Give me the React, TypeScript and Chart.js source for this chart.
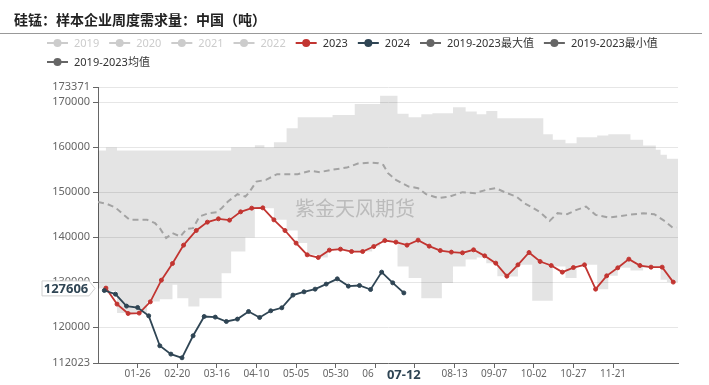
import React, { useEffect, useRef } from 'react';
import { Chart, registerables } from 'chart.js';

Chart.register(...registerables);

const FONT = '"Noto Sans", "Noto Sans CJK SC", sans-serif';
const CJK_FONT = '"Noto Sans CJK SC", "Noto Sans", sans-serif';

const title = '硅锰：样本企业周度需求量：中国（吨）';
const watermark = '紫金天风期货';

const legendRow1 = ['2019', '2020', '2021', '2022', '2023', '2024', '2019-2023最大值', '2019-2023最小值'];
const legendRow2 = ['2019-2023均值'];
const legendDisabled = ['2019', '2020', '2021', '2022'];
const legendColors: Record<string, string> = {
  '2023': '#c23531',
  '2024': '#2f4554',
  '2019-2023最大值': '#666666',
  '2019-2023最小值': '#666666',
  '2019-2023均值': '#666666',
};

const yTickValues = [112023, 120000, 130000, 140000, 150000, 160000, 170000, 173371];
const xTickDays = [25, 50, 75, 100, 125, 150, 175, 200, 225, 250, 275, 300, 325];

// weekly series (first date of each series, Friday data)
const start2023 = [2023, 0, 6];
const start2024 = [2024, 0, 5];

const values2023 = [
  128670, 125110, 123030, 123110, 125620, 130440, 134130, 138220, 141470, 143330,
  144070, 143780, 145620, 146440, 146510, 143840, 141470, 138670, 136070, 135470,
  137110, 137330, 136800, 136800, 137910, 139240, 138890, 138220, 139330, 138000,
  137020, 136670, 136510, 137180, 135840, 134220, 131330, 133840, 136580, 134580,
  133690, 132220, 133240, 133840, 128440, 131400, 133180, 135110, 133690, 133330,
  133330, 130000,
];

const values2024 = [
  128140, 127330, 124670, 124360, 122510, 115850, 114000, 113180, 118070, 122360,
  122220, 121250, 121780, 123470, 122140, 123620, 124290, 127110, 127840, 128440,
  129560, 130730, 129110, 129250, 128360, 132220, 129840, 127606,
];

const avgDays = [
  0, 6, 11, 15, 20, 31, 36, 39, 43, 47, 52, 56, 60, 64, 70, 75, 78, 82, 88, 93,
  95, 100, 106, 113, 126, 134, 140, 147, 157, 164, 172, 177, 180, 183, 188, 196, 202, 207, 215, 222,
  230, 238, 245, 251, 258, 264, 269, 273, 279, 285, 290, 296, 302, 308, 314, 322, 328, 335, 344, 351,
  358, 363, 365,
];
const avgValues = [
  147800, 147330, 146580, 145330, 143840, 143840, 143100, 142000, 139780, 140890,
  140130, 141840, 142000, 144580, 145330, 145550, 146440, 147910, 149550, 149020,
  149780, 152350, 152730, 154000, 154000, 154730, 154440, 154950, 155460, 156350,
  156570, 156440, 156060, 154220, 152730, 151240, 150890, 149550, 148670, 149020,
  150000, 149780, 150510, 150890, 149780, 149020, 147550, 146800, 145550, 143620,
  145330, 145100, 146060, 146800, 144950, 144350, 144580, 144950, 145330, 145100,
  143470, 142000, 142130,
];

const bandDays = [
  0, 5, 12, 31, 39, 47, 50, 57, 64, 78, 84, 93, 99, 105, 111, 119, 126, 132, 139, 145,
  148, 159, 162, 173, 178, 189, 196, 204, 211, 217, 224, 232, 239, 245, 252, 258, 265, 274, 281, 287,
  295, 302, 315, 322, 328, 336, 344, 352, 355, 359, 366,
];
const bandMax = [
  159240, 159910, 159240, 159240, 159240, 159240, 159240, 159240, 159240, 159240,
  159910, 159910, 160440, 159910, 161110, 164220, 166660, 166660, 166660, 166660,
  167170, 167170, 169620, 169620, 171400, 167400, 166660, 167330, 167550, 167550,
  168880, 167910, 167330, 168060, 166440, 166440, 166440, 166440, 162890, 161620,
  160890, 162220, 162580, 162890, 162890, 161620, 160350, 159400, 158290, 157400,
  157400,
];
const bandMin = [
  128580, 128000, 123110, 125690, 126220, 129400, 126440, 124580, 126440, 132000,
  136800, 139910, 146440, 146440, 143840, 141470, 138670, 136070, 135470, 137110,
  137110, 136800, 136800, 137910, 139240, 133470, 130890, 126440, 126440, 129780,
  133470, 135020, 135470, 134220, 131330, 131240, 133840, 125840, 125840, 133470,
  130890, 133840, 128440, 131400, 133180, 132580, 133180, 133180, 130510, 130000,
  130000,
];

const DAY_MS = 86400000;
const BASE = Date.UTC(2024, 0, 1);

function weeklyDays(start: number[], n: number): number[] {
  const out: number[] = [];
  for (let k = 0; k < n; k++) {
    const dt = new Date(Date.UTC(start[0], start[1], start[2] + 7 * k));
    out.push((Date.UTC(2024, dt.getUTCMonth(), dt.getUTCDate()) - BASE) / DAY_MS);
  }
  return out;
}

function dayLabel(d: number): string {
  const dt = new Date(BASE + d * DAY_MS);
  const mm = String(dt.getUTCMonth() + 1).padStart(2, '0');
  const dd = String(dt.getUTCDate()).padStart(2, '0');
  return `${mm}-${dd}`;
}

const toPts = (days: number[], vals: number[]) => days.map((d, i) => ({ x: d, y: vals[i] }));

const decorPlugin = {
  id: 'decor',
  afterDraw(chart: any) {
    const ctx = chart.ctx as CanvasRenderingContext2D;
    const xs = chart.scales.x;
    const ys = chart.scales.y;
    ctx.save();

    // title
    ctx.font = `bold 14px ${CJK_FONT}`;
    ctx.fillStyle = '#222';
    ctx.textBaseline = 'middle';
    ctx.textAlign = 'left';
    ctx.fillText(title, 14, 20);

    ctx.strokeStyle = '#999';
    ctx.lineWidth = 1;
    ctx.beginPath();
    ctx.moveTo(0, 33.5);
    ctx.lineTo(702, 33.5);
    ctx.stroke();

    // legend
    const drawRow = (items: string[], y: number) => {
      let x = 47;
      ctx.font = `11px ${FONT}`;
      for (const it of items) {
        const disabled = legendDisabled.includes(it);
        const col = disabled ? '#cccccc' : legendColors[it];
        ctx.strokeStyle = col;
        ctx.lineWidth = 2;
        ctx.beginPath();
        ctx.moveTo(x, y);
        ctx.lineTo(x + 21, y);
        ctx.stroke();
        ctx.fillStyle = col;
        ctx.beginPath();
        ctx.arc(x + 10.5, y, 4, 0, Math.PI * 2);
        ctx.fill();
        ctx.fillStyle = disabled ? '#cccccc' : '#333333';
        ctx.textBaseline = 'middle';
        ctx.fillText(it, x + 27, y + 0.5);
        x += 27 + ctx.measureText(it).width + 10;
      }
    };
    drawRow(legendRow1, 43);
    drawRow(legendRow2, 62);

    // watermark
    ctx.font = `20px ${CJK_FONT}`;
    ctx.fillStyle = 'rgba(110,110,110,0.35)';
    ctx.textAlign = 'left';
    ctx.textBaseline = 'middle';
    ctx.fillText(watermark, 295, 208);

    // axis pointer labels (last 2024 point)
    const days2024 = weeklyDays(start2024, values2024.length);
    const lastDay = days2024[days2024.length - 1];
    const lastVal = values2024[values2024.length - 1];

    const yc = ys.getPixelForValue(lastVal) - 4.5;
    ctx.beginPath();
    ctx.moveTo(42, yc - 7.5);
    ctx.lineTo(89, yc - 7.5);
    ctx.lineTo(95, yc);
    ctx.lineTo(89, yc + 7.5);
    ctx.lineTo(42, yc + 7.5);
    ctx.closePath();
    ctx.fillStyle = '#fff';
    ctx.fill();
    ctx.strokeStyle = '#d0d0d0';
    ctx.lineWidth = 1;
    ctx.stroke();
    ctx.font = `bold 13px ${FONT}`;
    ctx.fillStyle = '#2f4554';
    ctx.textAlign = 'center';
    ctx.fillText(String(lastVal), 66, yc + 0.5);

    const xc = xs.getPixelForValue(lastDay);
    ctx.fillStyle = '#fff';
    ctx.fillRect(xc - 30, 369, 60, 16);
    ctx.fillStyle = '#2f4554';
    ctx.fillText(dayLabel(lastDay), xc, 375);

    ctx.restore();
  },
};

export default function App() {
  const ref = useRef<HTMLCanvasElement>(null);

  useEffect(() => {
    if (!ref.current) return;
    const days2023 = weeklyDays(start2023, values2023.length);
    const days2024 = weeklyDays(start2024, values2024.length);

    const chart = new Chart(ref.current, {
      type: 'line',
      data: {
        datasets: [
          {
            label: '2024',
            data: toPts(days2024, values2024),
            borderColor: '#2f4554',
            backgroundColor: '#2f4554',
            borderWidth: 1.8,
            pointRadius: 2,
            pointBorderWidth: 1,
            pointBorderColor: '#2f4554',
            pointBackgroundColor: '#2f4554',
            fill: false,
            order: 1,
          },
          {
            label: '2023',
            data: toPts(days2023, values2023),
            borderColor: '#c23531',
            backgroundColor: '#c23531',
            borderWidth: 1.8,
            pointRadius: 2,
            pointBorderWidth: 1,
            pointBorderColor: '#c23531',
            pointBackgroundColor: '#c23531',
            fill: false,
            order: 2,
          },
          {
            label: '2019-2023均值',
            data: toPts(avgDays, avgValues),
            borderColor: '#a3a3a3',
            borderWidth: 2,
            borderDash: [6, 4],
            pointRadius: 0,
            fill: false,
            order: 3,
          },
          {
            label: '2019-2023最大值',
            data: toPts(bandDays, bandMax),
            stepped: true,
            borderColor: 'transparent',
            borderWidth: 0,
            pointRadius: 0,
            backgroundColor: 'rgba(0,0,0,0.105)',
            fill: '+1',
            order: 10,
          },
          {
            label: '2019-2023最小值',
            data: toPts(bandDays, bandMin),
            stepped: true,
            borderColor: 'transparent',
            borderWidth: 0,
            pointRadius: 0,
            fill: false,
            order: 11,
          },
        ] as any,
      },
      options: {
        responsive: false,
        animation: false,
        devicePixelRatio: 1,
        layout: { padding: { top: 87, right: 31, left: 0, bottom: 0 } },
        plugins: {
          legend: { display: false },
          title: { display: false },
          tooltip: { enabled: false },
        },
        events: [],
        scales: {
          x: {
            type: 'linear',
            min: 0,
            max: 366,
            afterFit: (s: any) => { s.height = 22; },
            afterBuildTicks: (s: any) => { s.ticks = xTickDays.map((v) => ({ value: v })); },
            grid: { drawOnChartArea: false, drawTicks: true, tickLength: 5, color: '#666', tickColor: '#666' },
            border: { color: '#666', width: 1 },
            ticks: {
              color: '#666',
              font: { family: FONT, size: 10 },
              padding: 0,
              maxRotation: 0,
              autoSkip: false,
              callback: (v: any) => dayLabel(Number(v)),
            },
          },
          y: {
            type: 'linear',
            min: yTickValues[0],
            max: yTickValues[yTickValues.length - 1],
            afterFit: (s: any) => { s.width = 98; },
            afterBuildTicks: (s: any) => { s.ticks = yTickValues.map((v) => ({ value: v })); },
            grid: { color: '#e6e6e6', tickColor: '#666', tickLength: 5, drawTicks: true },
            border: { color: '#666', width: 1 },
            ticks: {
              color: '#666',
              font: { family: FONT, size: 11 },
              padding: 3,
              autoSkip: false,
              callback: (v: any) => String(v),
            },
          },
        },
      },
      plugins: [decorPlugin],
    });
    return () => chart.destroy();
  }, []);

  return (
    <div style={{ position: 'absolute', left: 0, top: 0, width: 709, height: 385, background: '#fff' }}>
      <canvas ref={ref} width={709} height={385} style={{ width: 709, height: 385, display: 'block' }} />
    </div>
  );
}
